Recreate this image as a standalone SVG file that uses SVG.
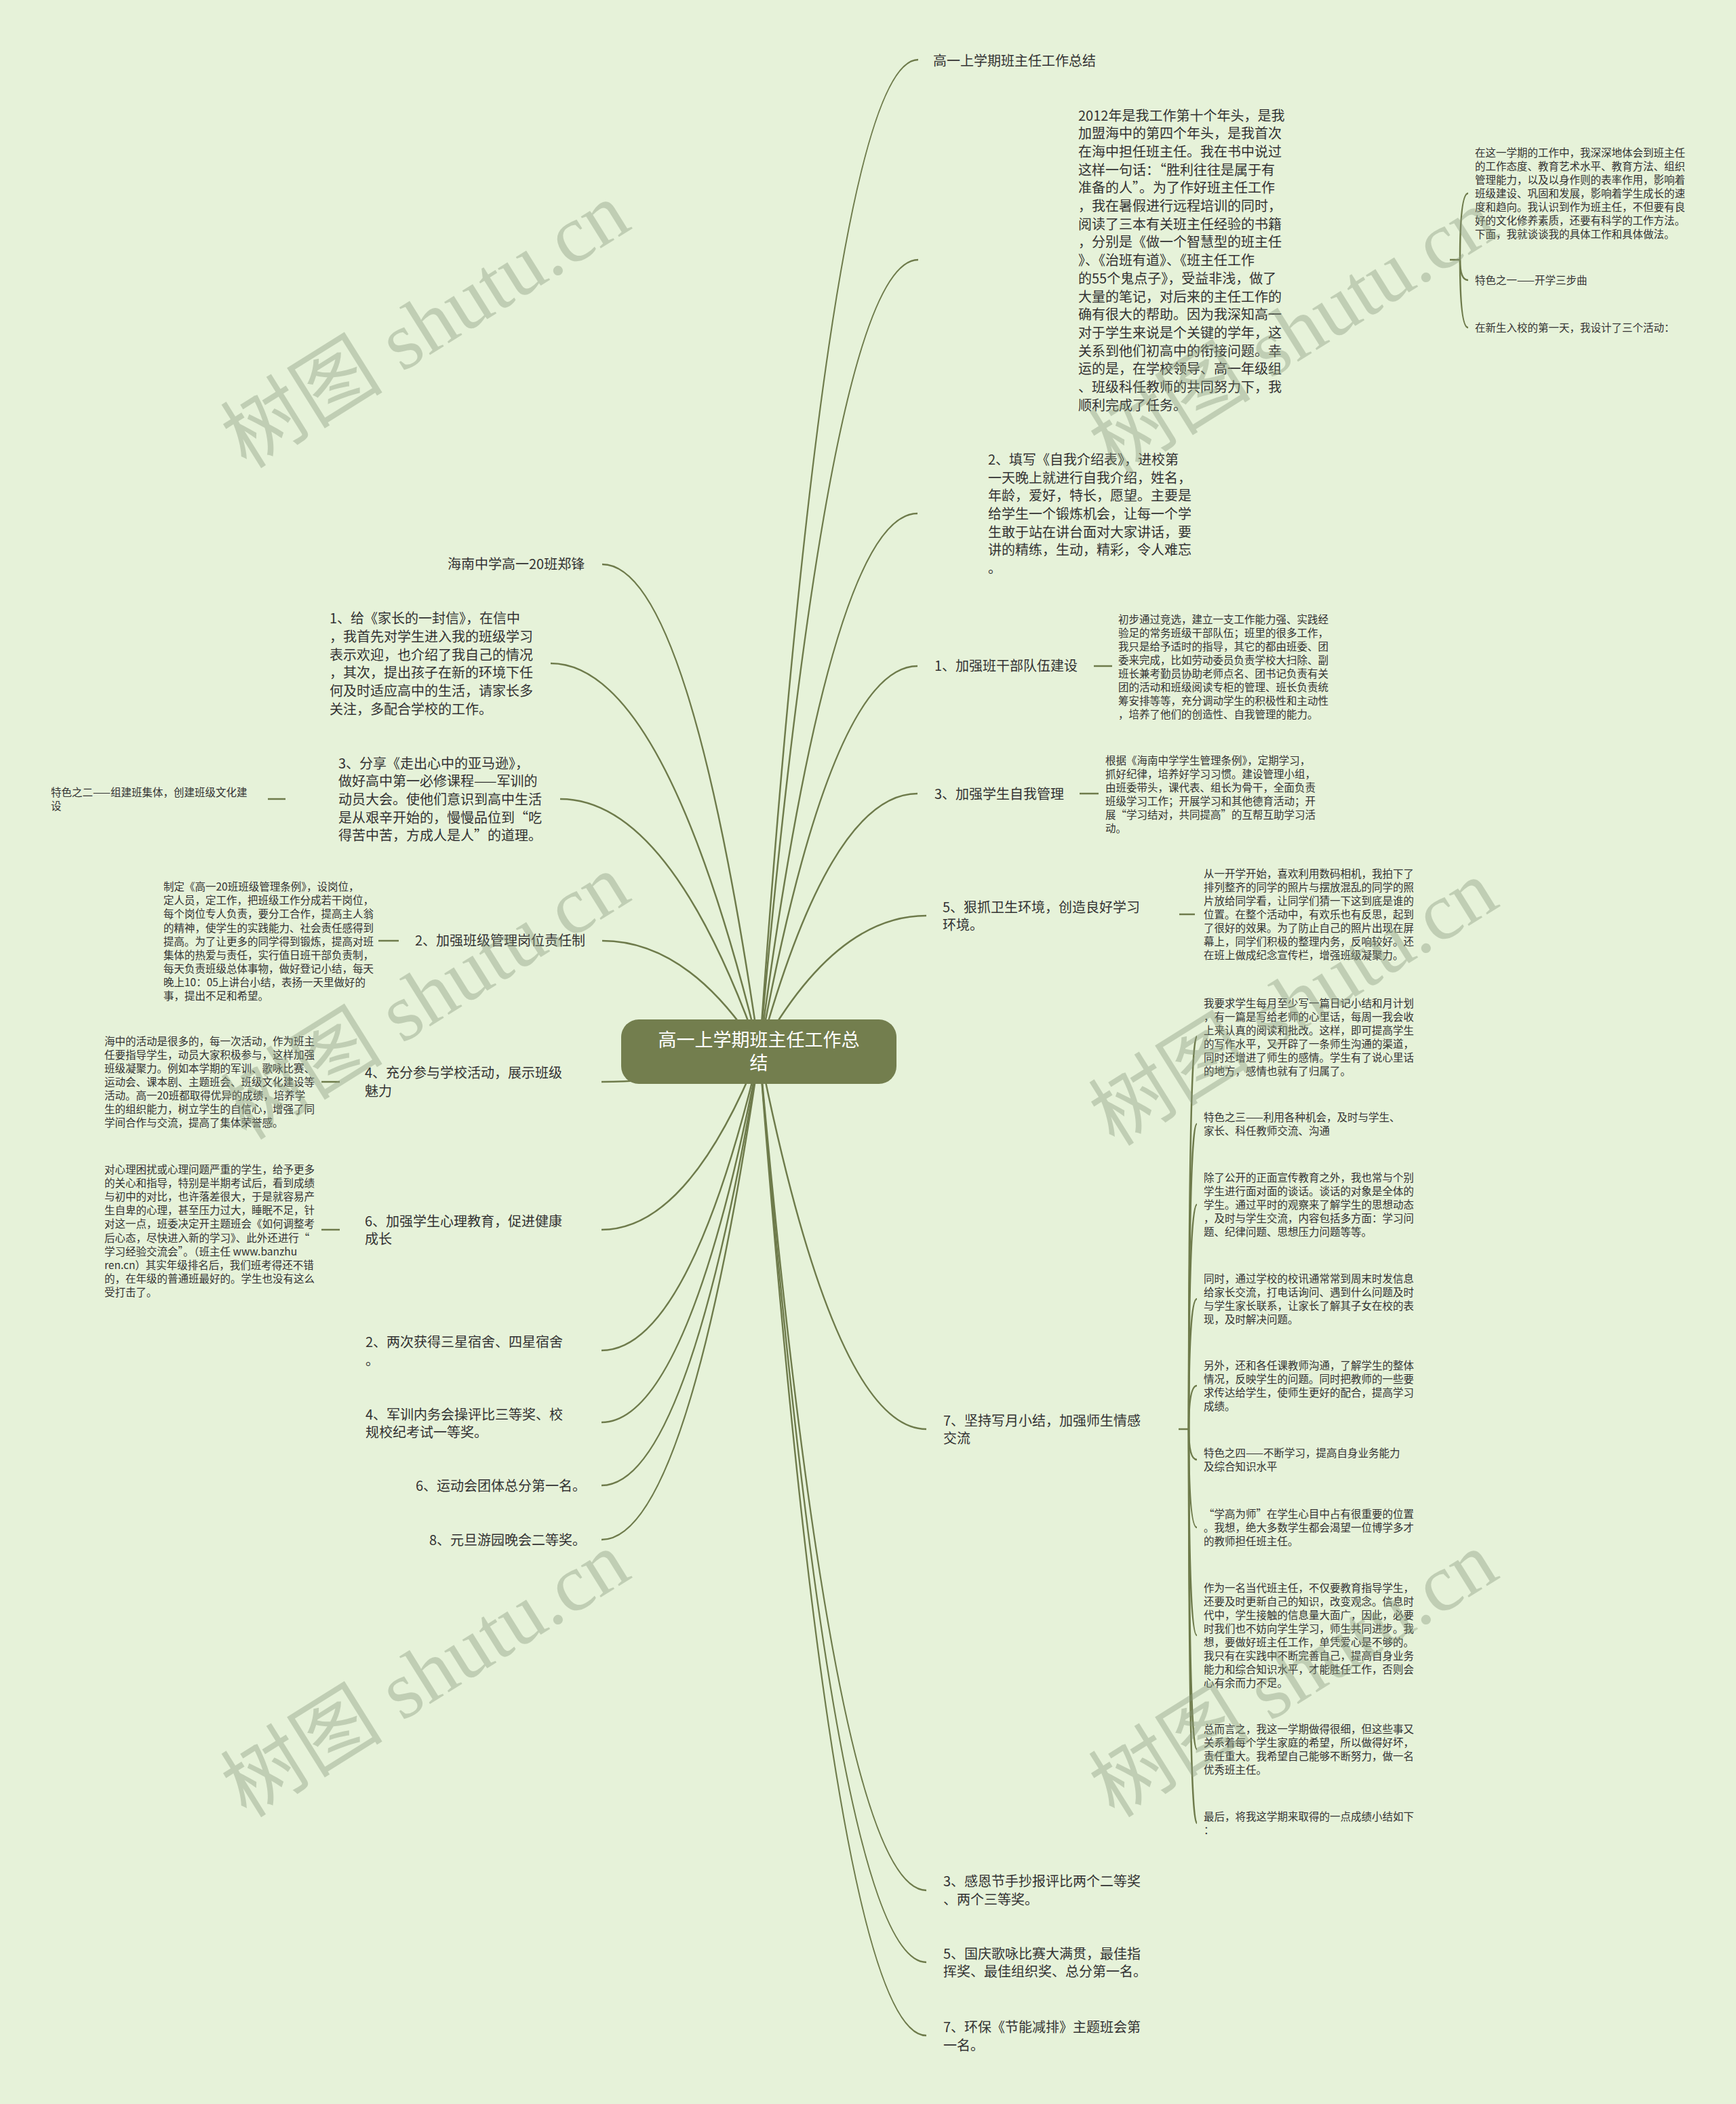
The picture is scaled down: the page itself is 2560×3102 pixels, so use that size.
<svg xmlns="http://www.w3.org/2000/svg" width="2560" height="3102" viewBox="0 0 2560 3102">
<style>
.ln{fill:none;stroke:#6e7b4b;stroke-width:2.5}
.sl{fill:none;stroke:#6e7b4b;stroke-width:2.5}
.t{font-family:"Noto Sans CJK SC",sans-serif;font-size:20px;fill:#333333}
.s{font-family:"Noto Sans CJK SC",sans-serif;font-size:15.5px;fill:#333333}
.rt{font-family:"Noto Sans CJK SC",sans-serif;font-size:27px;fill:#ffffff;text-anchor:middle}
.wm{font-family:"Liberation Serif","Noto Sans CJK SC",serif;font-size:120px;fill:#8a9a7e;opacity:0.4;text-anchor:middle}
</style>
<rect x="0" y="0" width="2560" height="3102" fill="#e6f2d9"/>
<g id="connectors">
<path class="ln" d="M1120 1551 Q1225 88 1354 88"/>
<path class="ln" d="M1120 1551 Q1225 383 1354 383"/>
<path class="ln" d="M1120 1551 Q1225 757 1353 757"/>
<path class="ln" d="M1120 1551 Q1225 982 1353 982"/>
<path class="ln" d="M1120 1551 Q1225 1170 1353 1170"/>
<path class="ln" d="M1120 1551 Q1231 1350 1366 1350"/>
<path class="ln" d="M1120 1551 Q1231 2107 1366 2107"/>
<path class="ln" d="M1120 1551 Q1231 2787 1366 2787"/>
<path class="ln" d="M1120 1551 Q1231 2893 1366 2893"/>
<path class="ln" d="M1120 1551 Q1231 3001 1366 3001"/>
<path class="ln" d="M1120 1551 Q1016 832 888 832"/>
<path class="ln" d="M1120 1551 Q981 978 812 978"/>
<path class="ln" d="M1120 1551 Q988 1178 826 1178"/>
<path class="ln" d="M1120 1551 Q1016 1387 888 1387"/>
<path class="ln" d="M1120 1551 Q1015 1595 887 1595"/>
<path class="ln" d="M1120 1551 Q1015 1813 887 1813"/>
<path class="ln" d="M1120 1551 Q1015 1991 887 1991"/>
<path class="ln" d="M1120 1551 Q1015 2097 887 2097"/>
<path class="ln" d="M1120 1551 Q1015 2190 887 2190"/>
<path class="ln" d="M1120 1551 Q1015 2270 887 2270"/>
<path class="sl" d="M2138 383 L2153 383"/>
<path class="sl" d="M2153 383 Q2153 285 2165 285"/>
<path class="sl" d="M2153 383 Q2153 413 2165 413"/>
<path class="sl" d="M2153 383 Q2153 483 2165 483"/>
<path class="sl" d="M1613 982 L1640 982"/>
<path class="sl" d="M1592 1170 L1620 1170"/>
<path class="sl" d="M1739 1348 L1762 1348"/>
<path class="sl" d="M1738 2107 L1753 2107"/>
<path class="sl" d="M1753 2107 Q1753 1528 1765 1528"/>
<path class="sl" d="M1753 2107 Q1753 1657 1765 1657"/>
<path class="sl" d="M1753 2107 Q1753 1776 1765 1776"/>
<path class="sl" d="M1753 2107 Q1753 1915 1765 1915"/>
<path class="sl" d="M1753 2107 Q1753 2043 1765 2043"/>
<path class="sl" d="M1753 2107 Q1753 2152 1765 2152"/>
<path class="sl" d="M1753 2107 Q1753 2252 1765 2252"/>
<path class="sl" d="M1753 2107 Q1753 2411 1765 2411"/>
<path class="sl" d="M1753 2107 Q1753 2579 1765 2579"/>
<path class="sl" d="M1753 2107 Q1753 2688 1765 2688"/>
<path class="sl" d="M395 1178 L421 1178"/>
<path class="sl" d="M558 1387 L588 1387"/>
<path class="sl" d="M474 1595 L501 1595"/>
<path class="sl" d="M474 1813 L501 1813"/>
</g>
<g id="root">
<rect x="916" y="1503" width="406" height="95" rx="26" ry="26" fill="#737e4e"/>
<text class="rt" x="1119" y="1543">高一上学期班主任工作总<tspan x="1119" dy="34">结</tspan></text>
</g>
<g id="r1"><text class="t" x="1376" y="97">高一上学期班主任工作总结</text></g>
<g id="r2"><text class="t" x="1590" y="177.8"><tspan x="1590" dy="0">2012年是我工作第十个年头，是我</tspan><tspan x="1590" dy="26.67">加盟海中的第四个年头，是我首次</tspan><tspan x="1590" dy="26.67">在海中担任班主任。我在书中说过</tspan><tspan x="1590" dy="26.67">这样一句话：“胜利往往是属于有</tspan><tspan x="1590" dy="26.67">准备的人”。为了作好班主任工作</tspan><tspan x="1590" dy="26.67">，我在暑假进行远程培训的同时，</tspan><tspan x="1590" dy="26.67">阅读了三本有关班主任经验的书籍</tspan><tspan x="1590" dy="26.67">，分别是《做一个智慧型的班主任</tspan><tspan x="1590" dy="26.67">》、《治班有道》、《班主任工作</tspan><tspan x="1590" dy="26.67">的55个鬼点子》，受益非浅，做了</tspan><tspan x="1590" dy="26.67">大量的笔记，对后来的主任工作的</tspan><tspan x="1590" dy="26.67">确有很大的帮助。因为我深知高一</tspan><tspan x="1590" dy="26.67">对于学生来说是个关键的学年，这</tspan><tspan x="1590" dy="26.67">关系到他们初高中的衔接问题。幸</tspan><tspan x="1590" dy="26.67">运的是，在学校领导、高一年级组</tspan><tspan x="1590" dy="26.67">、班级科任教师的共同努力下，我</tspan><tspan x="1590" dy="26.67">顺利完成了任务。</tspan></text></g>
<g id="r2a"><text class="s" x="2175" y="231"><tspan x="2175" dy="0">在这一学期的工作中，我深深地体会到班主任</tspan><tspan x="2175" dy="20">的工作态度、教育艺术水平、教育方法、组织</tspan><tspan x="2175" dy="20">管理能力，以及以身作则的表率作用，影响着</tspan><tspan x="2175" dy="20">班级建设、巩固和发展，影响着学生成长的速</tspan><tspan x="2175" dy="20">度和趋向。我认识到作为班主任，不但要有良</tspan><tspan x="2175" dy="20">好的文化修养素质，还要有科学的工作方法。</tspan><tspan x="2175" dy="20">下面，我就谈谈我的具体工作和具体做法。</tspan></text></g>
<g id="r2b"><text class="s" x="2175" y="419">特色之一——开学三步曲</text></g>
<g id="r2c"><text class="s" x="2175" y="489">在新生入校的第一天，我设计了三个活动：</text></g>
<g id="r3"><text class="t" x="1457" y="685"><tspan x="1457" dy="0">2、填写《自我介绍表》，进校第</tspan><tspan x="1457" dy="26.67">一天晚上就进行自我介绍，姓名，</tspan><tspan x="1457" dy="26.67">年龄，爱好，特长，愿望。主要是</tspan><tspan x="1457" dy="26.67">给学生一个锻炼机会，让每一个学</tspan><tspan x="1457" dy="26.67">生敢于站在讲台面对大家讲话，要</tspan><tspan x="1457" dy="26.67">讲的精练，生动，精彩，令人难忘</tspan><tspan x="1457" dy="26.67">。</tspan></text></g>
<g id="r4"><text class="t" x="1378" y="989.3">1、加强班干部队伍建设</text></g>
<g id="r4a"><text class="s" x="1649" y="918.6"><tspan x="1649" dy="0">初步通过竞选，建立一支工作能力强、实践经</tspan><tspan x="1649" dy="20">验足的常务班级干部队伍；班里的很多工作，</tspan><tspan x="1649" dy="20">我只是给予适时的指导，其它的都由班委、团</tspan><tspan x="1649" dy="20">委来完成，比如劳动委员负责学校大扫除、副</tspan><tspan x="1649" dy="20">班长兼考勤员协助老师点名、团书记负责有关</tspan><tspan x="1649" dy="20">团的活动和班级阅读专柜的管理、班长负责统</tspan><tspan x="1649" dy="20">筹安排等等，充分调动学生的积极性和主动性</tspan><tspan x="1649" dy="20">，培养了他们的创造性、自我管理的能力。</tspan></text></g>
<g id="r5"><text class="t" x="1378" y="1177.6">3、加强学生自我管理</text></g>
<g id="r5a"><text class="s" x="1630" y="1126.6"><tspan x="1630" dy="0">根据《海南中学学生管理条例》，定期学习，</tspan><tspan x="1630" dy="20">抓好纪律，培养好学习习惯。建设管理小组，</tspan><tspan x="1630" dy="20">由班委带头，课代表、组长为骨干，全面负责</tspan><tspan x="1630" dy="20">班级学习工作；开展学习和其他德育活动；开</tspan><tspan x="1630" dy="20">展“学习结对，共同提高”的互帮互助学习活</tspan><tspan x="1630" dy="20">动。</tspan></text></g>
<g id="r6"><text class="t" x="1390" y="1344.6"><tspan x="1390" dy="0">5、狠抓卫生环境，创造良好学习</tspan><tspan x="1390" dy="26.67">环境。</tspan></text></g>
<g id="r6a"><text class="s" x="1775" y="1294"><tspan x="1775" dy="0">从一开学开始，喜欢利用数码相机，我拍下了</tspan><tspan x="1775" dy="20">排列整齐的同学的照片与摆放混乱的同学的照</tspan><tspan x="1775" dy="20">片放给同学看，让同学们猜一下这到底是谁的</tspan><tspan x="1775" dy="20">位置。在整个活动中，有欢乐也有反思，起到</tspan><tspan x="1775" dy="20">了很好的效果。为了防止自己的照片出现在屏</tspan><tspan x="1775" dy="20">幕上，同学们积极的整理内务，反响较好。还</tspan><tspan x="1775" dy="20">在班上做成纪念宣传栏，增强班级凝聚力。</tspan></text></g>
<g id="r7"><text class="t" x="1391" y="2101.6"><tspan x="1391" dy="0">7、坚持写月小结，加强师生情感</tspan><tspan x="1391" dy="26.67">交流</tspan></text></g>
<g id="r7a"><text class="s" x="1775" y="1484.5"><tspan x="1775" dy="0">我要求学生每月至少写一篇日记小结和月计划</tspan><tspan x="1775" dy="20">，有一篇是写给老师的心里话，每周一我会收</tspan><tspan x="1775" dy="20">上来认真的阅读和批改。这样，即可提高学生</tspan><tspan x="1775" dy="20">的写作水平，又开辟了一条师生沟通的渠道，</tspan><tspan x="1775" dy="20">同时还增进了师生的感情。学生有了说心里话</tspan><tspan x="1775" dy="20">的地方，感情也就有了归属了。</tspan></text></g>
<g id="r7b"><text class="s" x="1775" y="1653"><tspan x="1775" dy="0">特色之三——利用各种机会，及时与学生、</tspan><tspan x="1775" dy="20">家长、科任教师交流、沟通</tspan></text></g>
<g id="r7c"><text class="s" x="1775" y="1742.1"><tspan x="1775" dy="0">除了公开的正面宣传教育之外，我也常与个别</tspan><tspan x="1775" dy="20">学生进行面对面的谈话。谈话的对象是全体的</tspan><tspan x="1775" dy="20">学生。通过平时的观察来了解学生的思想动态</tspan><tspan x="1775" dy="20">，及时与学生交流，内容包括多方面：学习问</tspan><tspan x="1775" dy="20">题、纪律问题、思想压力问题等等。</tspan></text></g>
<g id="r7d"><text class="s" x="1775" y="1890.7"><tspan x="1775" dy="0">同时，通过学校的校讯通常常到周末时发信息</tspan><tspan x="1775" dy="20">给家长交流，打电话询问、遇到什么问题及时</tspan><tspan x="1775" dy="20">与学生家长联系，让家长了解其子女在校的表</tspan><tspan x="1775" dy="20">现，及时解决问题。</tspan></text></g>
<g id="r7e"><text class="s" x="1775" y="2019"><tspan x="1775" dy="0">另外，还和各任课教师沟通，了解学生的整体</tspan><tspan x="1775" dy="20">情况，反映学生的问题。同时把教师的一些要</tspan><tspan x="1775" dy="20">求传达给学生，使师生更好的配合，提高学习</tspan><tspan x="1775" dy="20">成绩。</tspan></text></g>
<g id="r7f"><text class="s" x="1775" y="2148.3"><tspan x="1775" dy="0">特色之四——不断学习，提高自身业务能力</tspan><tspan x="1775" dy="20">及综合知识水平</tspan></text></g>
<g id="r7g"><text class="s" x="1775" y="2237.6"><tspan x="1775" dy="0">“学高为师”在学生心目中占有很重要的位置</tspan><tspan x="1775" dy="20">。我想，绝大多数学生都会渴望一位博学多才</tspan><tspan x="1775" dy="20">的教师担任班主任。</tspan></text></g>
<g id="r7h"><text class="s" x="1775" y="2347"><tspan x="1775" dy="0">作为一名当代班主任，不仅要教育指导学生，</tspan><tspan x="1775" dy="20">还要及时更新自己的知识，改变观念。信息时</tspan><tspan x="1775" dy="20">代中，学生接触的信息量大面广，因此，必要</tspan><tspan x="1775" dy="20">时我们也不妨向学生学习，师生共同进步。我</tspan><tspan x="1775" dy="20">想，要做好班主任工作，单凭爱心是不够的。</tspan><tspan x="1775" dy="20">我只有在实践中不断完善自己，提高自身业务</tspan><tspan x="1775" dy="20">能力和综合知识水平，才能胜任工作，否则会</tspan><tspan x="1775" dy="20">心有余而力不足。</tspan></text></g>
<g id="r7i"><text class="s" x="1775" y="2554.6"><tspan x="1775" dy="0">总而言之，我这一学期做得很细，但这些事又</tspan><tspan x="1775" dy="20">关系着每个学生家庭的希望，所以做得好坏，</tspan><tspan x="1775" dy="20">责任重大。我希望自己能够不断努力，做一名</tspan><tspan x="1775" dy="20">优秀班主任。</tspan></text></g>
<g id="r7j"><text class="s" x="1775" y="2684"><tspan x="1775" dy="0">最后，将我这学期来取得的一点成绩小结如下</tspan><tspan x="1775" dy="20">：</tspan></text></g>
<g id="r8"><text class="t" x="1391" y="2781"><tspan x="1391" dy="0">3、感恩节手抄报评比两个二等奖</tspan><tspan x="1391" dy="26.67">、两个三等奖。</tspan></text></g>
<g id="r9"><text class="t" x="1391" y="2887.6"><tspan x="1391" dy="0">5、国庆歌咏比赛大满贯，最佳指</tspan><tspan x="1391" dy="26.67">挥奖、最佳组织奖、总分第一名。</tspan></text></g>
<g id="r10"><text class="t" x="1391" y="2996"><tspan x="1391" dy="0">7、环保《节能减排》主题班会第</tspan><tspan x="1391" dy="26.67">一名。</tspan></text></g>
<g id="l1"><text class="t" x="660" y="839.3">海南中学高一20班郑锋</text></g>
<g id="l2"><text class="t" x="486" y="919.3"><tspan x="486" dy="0">1、给《家长的一封信》，在信中</tspan><tspan x="486" dy="26.67">，我首先对学生进入我的班级学习</tspan><tspan x="486" dy="26.67">表示欢迎，也介绍了我自己的情况</tspan><tspan x="486" dy="26.67">，其次，提出孩子在新的环境下任</tspan><tspan x="486" dy="26.67">何及时适应高中的生活，请家长多</tspan><tspan x="486" dy="26.67">关注，多配合学校的工作。</tspan></text></g>
<g id="l3"><text class="t" x="499" y="1132.6"><tspan x="499" dy="0">3、分享《走出心中的亚马逊》，</tspan><tspan x="499" dy="26.67">做好高中第一必修课程——军训的</tspan><tspan x="499" dy="26.67">动员大会。使他们意识到高中生活</tspan><tspan x="499" dy="26.67">是从艰辛开始的，慢慢品位到“吃</tspan><tspan x="499" dy="26.67">得苦中苦，方成人是人”的道理。</tspan></text></g>
<g id="l3a"><text class="s" x="75" y="1174.2"><tspan x="75" dy="0">特色之二——组建班集体，创建班级文化建</tspan><tspan x="75" dy="20">设</tspan></text></g>
<g id="l4"><text class="t" x="612" y="1394.3">2、加强班级管理岗位责任制</text></g>
<g id="l4a"><text class="s" x="241" y="1313.2"><tspan x="241" dy="0">制定《高一20班班级管理条例》，设岗位，</tspan><tspan x="241" dy="20.1">定人员，定工作，把班级工作分成若干岗位，</tspan><tspan x="241" dy="20.1">每个岗位专人负责，要分工合作，提高主人翁</tspan><tspan x="241" dy="20.1">的精神，使学生的实践能力、社会责任感得到</tspan><tspan x="241" dy="20.1">提高。为了让更多的同学得到锻炼，提高对班</tspan><tspan x="241" dy="20.1">集体的热爱与责任，实行值日班干部负责制，</tspan><tspan x="241" dy="20.1">每天负责班级总体事物，做好登记小结，每天</tspan><tspan x="241" dy="20.1">晚上10：05上讲台小结，表扬一天里做好的</tspan><tspan x="241" dy="20.1">事，提出不足和希望。</tspan></text></g>
<g id="l5"><text class="t" x="538" y="1589.3"><tspan x="538" dy="0">4、充分参与学校活动，展示班级</tspan><tspan x="538" dy="26.67">魅力</tspan></text></g>
<g id="l5a"><text class="s" x="154" y="1541"><tspan x="154" dy="0">海中的活动是很多的，每一次活动，作为班主</tspan><tspan x="154" dy="20">任要指导学生，动员大家积极参与，这样加强</tspan><tspan x="154" dy="20">班级凝聚力。例如本学期的军训、歌咏比赛、</tspan><tspan x="154" dy="20">运动会、课本剧、主题班会、班级文化建设等</tspan><tspan x="154" dy="20">活动。高一20班都取得优异的成绩，培养学</tspan><tspan x="154" dy="20">生的组织能力，树立学生的自信心，增强了同</tspan><tspan x="154" dy="20">学间合作与交流，提高了集体荣誉感。</tspan></text></g>
<g id="l6"><text class="t" x="538" y="1807.6"><tspan x="538" dy="0">6、加强学生心理教育，促进健康</tspan><tspan x="538" dy="26.67">成长</tspan></text></g>
<g id="l6a"><text class="s" x="154" y="1730"><tspan x="154" dy="0">对心理困扰或心理问题严重的学生，给予更多</tspan><tspan x="154" dy="20.1">的关心和指导，特别是半期考试后，看到成绩</tspan><tspan x="154" dy="20.1">与初中的对比，也许落差很大，于是就容易产</tspan><tspan x="154" dy="20.1">生自卑的心理，甚至压力过大，睡眠不足，针</tspan><tspan x="154" dy="20.1">对这一点，班委决定开主题班会《如何调整考</tspan><tspan x="154" dy="20.1">后心态，尽快进入新的学习》、此外还进行“</tspan><tspan x="154" dy="20.1">学习经验交流会”。（班主任 www.banzhu</tspan><tspan x="154" dy="20.1">ren.cn）其实年级排名后，我们班考得还不错</tspan><tspan x="154" dy="20.1">的，在年级的普通班最好的。学生也没有这么</tspan><tspan x="154" dy="20.1">受打击了。</tspan></text></g>
<g id="l7"><text class="t" x="539" y="1986"><tspan x="539" dy="0">2、两次获得三星宿舍、四星宿舍</tspan><tspan x="539" dy="26.67">。</tspan></text></g>
<g id="l8"><text class="t" x="539" y="2092.6"><tspan x="539" dy="0">4、军训内务会操评比三等奖、校</tspan><tspan x="539" dy="26.67">规校纪考试一等奖。</tspan></text></g>
<g id="l9"><text class="t" x="613" y="2198.3">6、运动会团体总分第一名。</text></g>
<g id="l10"><text class="t" x="633" y="2277.6">8、元旦游园晚会二等奖。</text></g>
<g id="watermarks">
<text class="wm" transform="translate(649 514) rotate(-32)">树图 shutu.cn</text>
<text class="wm" transform="translate(1929 524) rotate(-32)">树图 shutu.cn</text>
<text class="wm" transform="translate(649 1504) rotate(-32)">树图 shutu.cn</text>
<text class="wm" transform="translate(1929 1513) rotate(-32)">树图 shutu.cn</text>
<text class="wm" transform="translate(649 2503) rotate(-32)">树图 shutu.cn</text>
<text class="wm" transform="translate(1929 2503) rotate(-32)">树图 shutu.cn</text>
</g>
</svg>
